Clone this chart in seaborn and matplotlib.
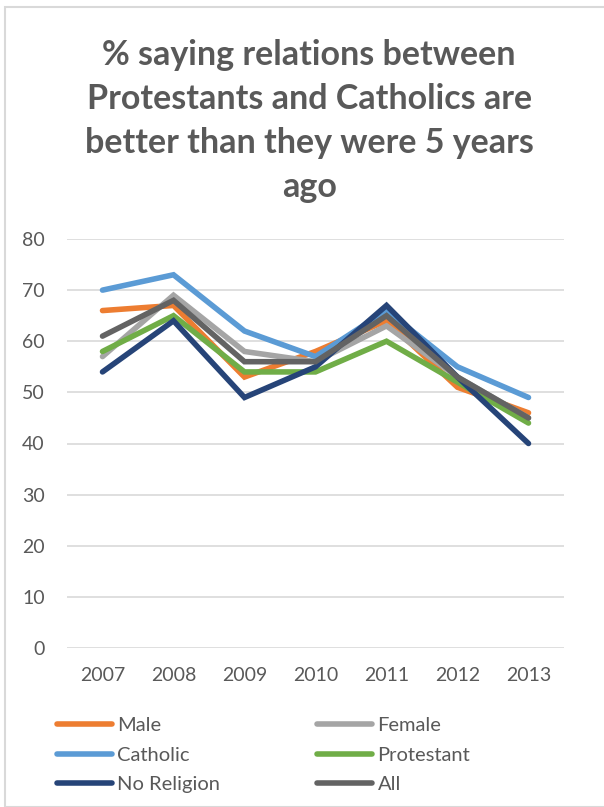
import matplotlib
matplotlib.use("Agg")
import matplotlib.pyplot as plt
import seaborn as sns
import pandas as pd
from matplotlib.patches import Rectangle

years = [2007, 2008, 2009, 2010, 2011, 2012, 2013]
male = [66, 67, 53, 58, 64, 51, 46]
female = [57, 69, 58, 56, 63, 53, 45]
catholic = [70, 73, 62, 57, 66, 55, 49]
protestant = [58, 65, 54, 54, 60, 52, 44]
no_religion = [54, 64, 49, 55, 67, 53, 40]
all_ = [61, 68, 56, 56, 65, 53, 45]

series_names = ["Male", "Female", "Catholic", "Protestant", "No Religion", "All"]
series_vals = [male, female, catholic, protestant, no_religion, all_]
colors = ["#ED7D31", "#A5A5A5", "#5B9BD5", "#70AD47", "#264478", "#636363"]

rows = []
for name, vals in zip(series_names, series_vals):
    for y, v in zip(years, vals):
        rows.append({"Year": y, "Value": v, "Series": name})
df = pd.DataFrame(rows)

sns.set_style("white")
plt.rcParams['font.family'] = ['Lato', 'DejaVu Sans']

fig = plt.figure(figsize=(6.04, 8.07), dpi=100)
ax = fig.add_axes([67/604, 1-648/807, (564-67)/604, (648-239)/807])

sns.lineplot(data=df, x="Year", y="Value", hue="Series", hue_order=series_names,
             palette=colors, linewidth=4.0, ax=ax, legend=False, sort=False)
for ln in ax.lines:
    ln.set_solid_capstyle("round")
    ln.set_solid_joinstyle("miter")

ax.set_xlim(2006.5, 2013.5)
ax.set_ylim(0, 80)
ax.set_yticks(range(0, 81, 10))
ax.set_xticks(years)
ax.set_xticklabels([str(y) for y in years])
ax.grid(axis="y", color="#d9d9d9", linewidth=1.2)
ax.grid(axis="x", visible=False)
ax.set_axisbelow(True)
for s in ax.spines.values():
    s.set_visible(False)
ax.tick_params(axis="both", length=0, labelsize=14, labelcolor="#595959")
ax.tick_params(axis="x", pad=14)
ax.tick_params(axis="y", pad=16)
ax.set_xlabel("")
ax.set_ylabel("")

fig.text(0.512, 1-121/807,
         "% saying relations between\nProtestants and Catholics are\nbetter than they were 5 years\nago",
         ha="center", va="center", fontsize=24.5, fontweight="bold", color="#595959",
         linespacing=1.45)

handles = {}
for name, c in zip(series_names, colors):
    handles[name] = plt.Line2D([], [], color=c, linewidth=4.0, solid_capstyle="round")
order = ["Male", "Catholic", "No Religion", "Female", "Protestant", "All"]
leg = fig.legend([handles[n] for n in order], order, ncol=2,
                 loc="upper left", bbox_to_anchor=(57/604, 1-717/807),
                 frameon=False, fontsize=14.5, handlelength=2.75, handletextpad=0.25,
                 columnspacing=4.8, labelspacing=0.62, borderaxespad=0, borderpad=0)
for t in leg.get_texts():
    t.set_color("#595959")

fig.patches.append(Rectangle((5/604, 0), 1, 1-7/807, transform=fig.transFigure,
                             fill=False, edgecolor="#d9d9d9", linewidth=1.5))

fig.savefig("out.png", dpi=100)
